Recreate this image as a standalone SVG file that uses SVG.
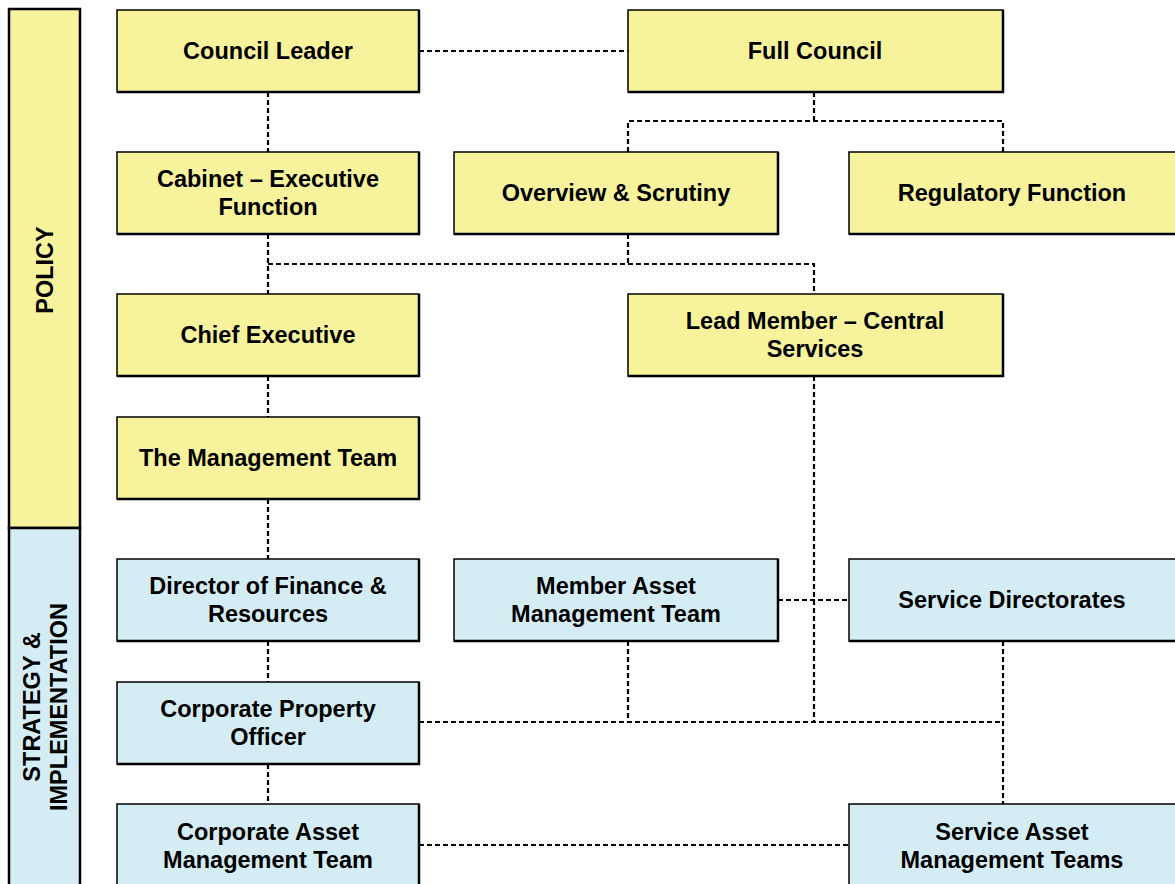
<svg xmlns="http://www.w3.org/2000/svg" width="1175" height="884" viewBox="0 0 1175 884">
<style>
.y{fill:#F6F39C;stroke:#000;stroke-width:1.5}
.b{fill:#D4EDF4;stroke:#000;stroke-width:1.5}
.sh{fill:none;stroke:#000;stroke-width:2.5}
.t{font-family:"Liberation Sans",Arial,sans-serif;font-weight:bold;font-size:23.5px;fill:#000;text-anchor:middle}
.c{fill:none;stroke:#000;stroke-width:2.2;stroke-dasharray:5 3}
</style>
<rect width="1175" height="884" fill="#fff"/>
<g id="band-policy">
<rect x="9" y="9" width="71" height="519" fill="#F6F39C" stroke="#000" stroke-width="2.5"/>
<text class="t" transform="translate(53,270) rotate(-90)">POLICY</text>
</g>
<g id="band-strategy">
<rect x="9" y="528" width="71" height="360" fill="#D4EDF4" stroke="#000" stroke-width="2.5"/>
<text class="t" transform="translate(40,707) rotate(-90)">STRATEGY &amp;</text>
<text class="t" transform="translate(67,707) rotate(-90)">IMPLEMENTATION</text>
</g>
<g id="connectors">
<path class="c" d="M419,51H628"/>
<path class="c" d="M268,92V152"/>
<path class="c" d="M814,92V121M628,152V121H1003V152"/>
<path class="c" d="M268,234V294M268,264H814V294M628,234V264"/>
<path class="c" d="M268,376V417M268,499V559M268,641V682M268,764V804"/>
<path class="c" d="M814,376V722"/>
<path class="c" d="M778,600H849"/>
<path class="c" d="M419,722H1003M628,641V722M1003,641V804"/>
<path class="c" d="M419,845H849"/>
</g>
<g id="council-leader"><rect class="y" x="117" y="10" width="302" height="82"/><path class="sh" d="M117,92H419V10"/><text class="t" x="268" y="59">Council Leader</text></g>
<g id="full-council"><rect class="y" x="628" y="10" width="375" height="82"/><path class="sh" d="M628,92H1003V10"/><text class="t" x="815" y="59">Full Council</text></g>
<g id="cabinet"><rect class="y" x="117" y="152" width="302" height="82"/><path class="sh" d="M117,234H419V152"/><text class="t" x="268" y="187">Cabinet – Executive</text><text class="t" x="268" y="215">Function</text></g>
<g id="overview"><rect class="y" x="454" y="152" width="324" height="82"/><path class="sh" d="M454,234H778V152"/><text class="t" x="616" y="201">Overview &amp; Scrutiny</text></g>
<g id="regulatory"><rect class="y" x="849" y="152" width="330" height="82"/><path class="sh" d="M849,234H1179"/><text class="t" x="1012" y="201">Regulatory Function</text></g>
<g id="chief-executive"><rect class="y" x="117" y="294" width="302" height="82"/><path class="sh" d="M117,376H419V294"/><text class="t" x="268" y="343">Chief Executive</text></g>
<g id="lead-member"><rect class="y" x="628" y="294" width="375" height="82"/><path class="sh" d="M628,376H1003V294"/><text class="t" x="815" y="329">Lead Member – Central</text><text class="t" x="815" y="357">Services</text></g>
<g id="management-team"><rect class="y" x="117" y="417" width="302" height="82"/><path class="sh" d="M117,499H419V417"/><text class="t" x="268" y="466">The Management Team</text></g>
<g id="director-finance"><rect class="b" x="117" y="559" width="302" height="82"/><path class="sh" d="M117,641H419V559"/><text class="t" x="268" y="594">Director of Finance &amp;</text><text class="t" x="268" y="622">Resources</text></g>
<g id="member-asset"><rect class="b" x="454" y="559" width="324" height="82"/><path class="sh" d="M454,641H778V559"/><text class="t" x="616" y="594">Member Asset</text><text class="t" x="616" y="622">Management Team</text></g>
<g id="service-directorates"><rect class="b" x="849" y="559" width="330" height="82"/><path class="sh" d="M849,641H1179"/><text class="t" x="1012" y="608">Service Directorates</text></g>
<g id="corporate-property-officer"><rect class="b" x="117" y="682" width="302" height="82"/><path class="sh" d="M117,764H419V682"/><text class="t" x="268" y="717">Corporate Property</text><text class="t" x="268" y="745">Officer</text></g>
<g id="corporate-asset-team"><rect class="b" x="117" y="804" width="302" height="90"/><path class="sh" d="M419,894V804"/><text class="t" x="268" y="840">Corporate Asset</text><text class="t" x="268" y="868">Management Team</text></g>
<g id="service-asset-teams"><rect class="b" x="849" y="804" width="330" height="90"/><text class="t" x="1012" y="840">Service Asset</text><text class="t" x="1012" y="868">Management Teams</text></g>
</svg>
